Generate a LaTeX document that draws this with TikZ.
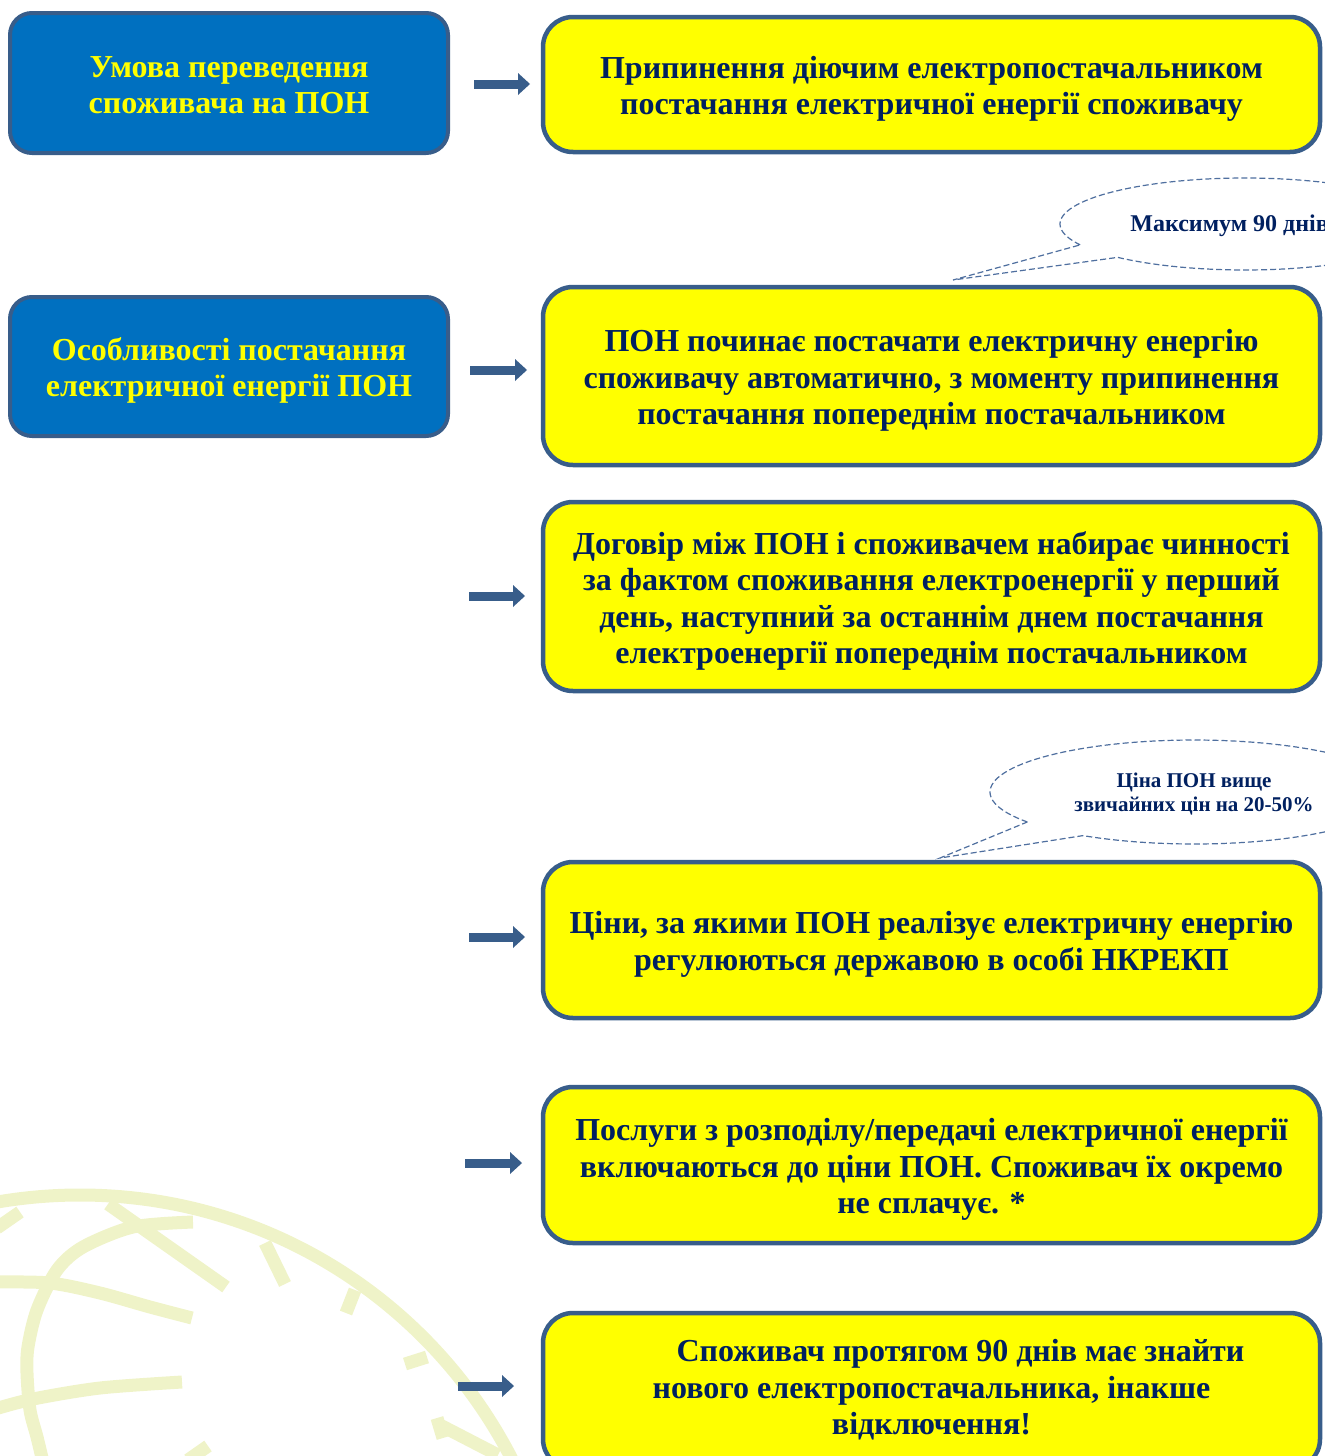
\documentclass[tikz,border=0pt]{standalone}
\usepackage{fontspec}
\setmainfont{Liberation Serif}
\usetikzlibrary{arrows.meta}
\definecolor{bordc}{HTML}{385D8A}
\definecolor{navyt}{HTML}{002060}
\definecolor{bluef}{HTML}{0070C0}
\definecolor{yelf}{HTML}{FFFF00}
\definecolor{wmark}{RGB}{239,243,200}
\definecolor{dashc}{HTML}{4F6F9F}
\tikzset{
  ybox/.style={draw=bordc, line width=2.25pt, fill=yelf, rounded corners=15pt,
    minimum width=388.5pt, inner sep=0pt},
  ytxt/.style={align=center, inner sep=0pt, text=navyt,
    font=\bfseries\fontsize{16}{18.3}\selectfont},
  bbox/.style={draw=bordc, line width=2pt, fill=bluef, rounded corners=11pt,
    minimum width=219pt, inner sep=0pt},
  btxt/.style={align=center, inner sep=0pt, text=yelf,
    font=\bfseries\fontsize{16}{18.3}\selectfont},
  arw/.style={draw=bordc, line width=4.5pt,
    -{Triangle[length=6pt, width=11pt, line width=0pt]}},
  callout/.style={draw=dashc, line width=0.6pt, dash pattern=on 3pt off 1.5pt, fill=white},
  ctext/.style={text=navyt, align=center, inner sep=0pt},
  wm/.style={draw=wmark, line width=6.5pt}
}
\begin{document}
\begin{tikzpicture}[x=0.5pt,y=-0.5pt]
\useasboundingbox (0,0) rectangle (1324,1456);
% watermark globe
\begin{scope}
\clip (0,1150) rectangle (540,1456);
\draw[wm] (80,1680) circle[radius=242.5pt];
\draw[wm] plot[smooth] coordinates {(193,1222) (133,1227) (83,1247) (57,1270) (37,1310) (28,1347) (27,1373) (30,1410) (37,1437) (43,1462)};
\draw[wm] plot[smooth] coordinates {(-5,1282) (50,1283) (100,1293) (150,1307) (192,1318)};
\draw[wm] plot[smooth] coordinates {(-5,1409) (33,1399) (100,1388) (182,1382)};
\draw[wm] (108,1204) -- (226,1287);
\draw[wm] (-3,1228) -- (20,1212);
\draw[wm] (265,1243) -- (285,1284);
\draw[wm] (355,1290) -- (346,1313);
\draw[wm] (405,1364) -- (427,1357);
\draw[wm] (437,1418) -- (443,1438);
\draw[wm] (440,1425) -- (498,1455);
\draw[wm] (188,1460) -- (208,1446);
\end{scope}
% callouts
\coordinate (t1) at (953,280);
\draw[callout] plot[domain=153:493.5, samples=120] ({1245+185*cos(\x)},{224+46*sin(\x)}) -- (t1) -- cycle;
\node[ctext, anchor=west, font=\bfseries\fontsize{12}{13.5}\selectfont] (c1) at (1130,226) {Максимум 90 днів};
\coordinate (t2) at (940,858);
\draw[callout] plot[domain=144.8:483, samples=120] ({1194+204*cos(\x)},{792+52*sin(\x)}) -- (t2) -- cycle;
\node[ctext, font=\bfseries\fontsize{10.5}{12}\selectfont] (c2) at (1194,794) {Ціна ПОН вище\\звичайних цін на 20-50\%};
% blue boxes
\node[bbox, minimum height=70pt] (b1) at (229,83) {};
\node[btxt] (b1t) at ([yshift=-1pt]b1.center) {Умова переведення\\споживача на ПОН};
\node[bbox, minimum height=69.5pt] (b2) at (229,366.5) {};
\node[btxt] (b2t) at ([yshift=-2pt]b2.center) {Особливості постачання\\електричної енергії ПОН};
% yellow boxes
\node[ybox, minimum height=67.5pt] (y1) at (931.5,84.5) {};
\node[ytxt] (y1t) at ([yshift=-2.25pt]y1.center) {Припинення діючим електропостачальником\\постачання електричної енергії споживачу};
\node[ybox, minimum height=89pt] (y2) at (931.5,376) {};
\node[ytxt] (y2t) at ([yshift=-2.25pt]y2.center) {ПОН починає постачати електричну енергію\\споживачу автоматично, з моменту припинення\\постачання попереднім постачальником};
\node[ybox, minimum height=94.5pt] (y3) at (931.5,596.5) {};
\node[ytxt] (y3t) at ([yshift=-2.25pt]y3.center) {Договір між ПОН і споживачем набирає чинності\\за фактом споживання електроенергії у перший\\день, наступний за останнім днем постачання\\електроенергії попереднім постачальником};
\node[ybox, minimum height=78pt] (y4) at (931.5,940) {};
\node[ytxt] (y4t) at ([yshift=-2.25pt]y4.center) {Ціни, за якими ПОН реалізує електричну енергію\\регулюються державою в особі НКРЕКП};
\node[ybox, minimum height=78pt] (y5) at (931.5,1165) {};
\node[ytxt] (y5t) at ([yshift=-2.25pt]y5.center) {Послуги з розподілу/передачі електричної енергії\\включаються до ціни ПОН. Споживач їх окремо\\не сплачує. *};
\node[ybox, minimum height=78pt] (y6) at (931.5,1391) {};
\node[ytxt] (y6t) at ([yshift=0.5pt]y6.center) {\hspace*{29pt}Споживач протягом 90 днів має знайти\\нового електропостачальника, інакше\\відключення!};
% arrows
\coordinate (s1) at (474,84);   \coordinate (e1) at (530,84);
\coordinate (s2) at (470,370);  \coordinate (e2) at (527,370);
\coordinate (s3) at (469,596);  \coordinate (e3) at (525,596);
\coordinate (s4) at (469,937);  \coordinate (e4) at (525,937);
\coordinate (s5) at (465,1163); \coordinate (e5) at (522,1163);
\coordinate (s6) at (458,1386); \coordinate (e6) at (514,1386);
\foreach \i in {1,...,6} { \draw[arw] (s\i) -- (e\i); }
\end{tikzpicture}
\end{document}
